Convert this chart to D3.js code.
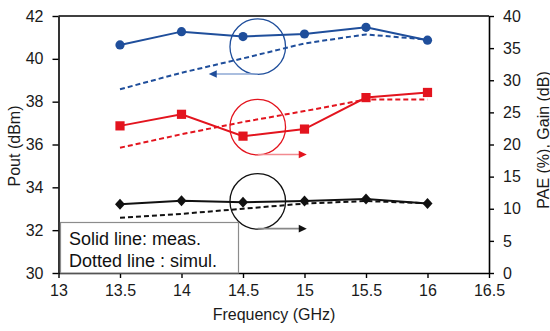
<!DOCTYPE html>
<html><head><meta charset="utf-8">
<script src="https://cdn.jsdelivr.net/npm/d3@7"></script>
<style>body{margin:0;background:#fff}svg{display:block}text{font-family:"Liberation Sans",Arial,sans-serif}</style>
</head><body><svg id="c" width="550" height="331"></svg>
<script>
const freq = [13.5, 14, 14.5, 15, 15.5, 16];
const poutMeas = [40.65, 41.27, 41.04, 41.16, 41.47, 40.87];
const poutSim  = [38.58, 39.35, 40.02, 40.72, 41.14, 40.9];
const paeMeas  = [22.9, 24.7, 21.3, 22.4, 27.3, 28.1];
const paeSim   = [19.5, 21.6, 23.5, 25.2, 27.0, 27.0];
const gainMeas = [10.7, 11.25, 11.0, 11.2, 11.5, 10.8];
const gainSim  = [8.6, 9.2, 10.0, 10.8, 11.2, 10.85];
const xTicks = [13, 13.5, 14, 14.5, 15, 15.5, 16, 16.5];
const yLeftTicks = [30, 32, 34, 36, 38, 40, 42];
const yRightTicks = [0, 5, 10, 15, 20, 25, 30, 35, 40];
const legendLines = ["Solid line: meas.", "Dotted line : simul."];
// annotation circles: [freq, value, axis, arrow direction]
const notes = [
  {f: 14.62, v: 40.57, axis: "L", dir: -1, color: "#1f4e9b", shaft: "#8ea8d4"},
  {f: 14.62, v: 22.7, axis: "R", dir: 1, color: "#e3141e", shaft: "#f28a90"},
  {f: 14.62, v: 11.15, axis: "R", dir: 1, color: "#111", shaft: "#888"}
];

const svg = d3.select("#c");
const x = d3.scaleLinear([13, 16.5], [58.5, 489]);
const yL = d3.scaleLinear([30, 42], [273, 16]);
const yR = d3.scaleLinear([0, 40], [273, 16]);

// top frame line
svg.append("line").attr("x1", x(13)).attr("x2", x(16.5)).attr("y1", yL(42)).attr("y2", yL(42))
  .attr("stroke", "#000").attr("stroke-width", 1.6);

function styleAxis(g){
  g.selectAll(".domain").attr("stroke", "#000").attr("stroke-width", 1.6);
  g.selectAll(".tick line").attr("stroke", "#000").attr("stroke-width", 1.4);
  g.selectAll(".tick text").attr("font-size", 16).attr("fill", "#1a1a1a")
    .style("font-family", '"Liberation Sans", Arial, sans-serif');
}
svg.append("g").attr("transform", `translate(0,${yL(30)})`)
  .call(d3.axisBottom(x).tickValues(xTicks).tickFormat(d => String(d)).tickSize(5).tickSizeOuter(0).tickPadding(7))
  .call(styleAxis);
svg.append("g").attr("transform", `translate(${x(13)},0)`)
  .call(d3.axisLeft(yL).tickValues(yLeftTicks).tickSize(6).tickSizeOuter(0).tickPadding(9))
  .call(styleAxis);
svg.append("g").attr("transform", `translate(${x(16.5)},0)`)
  .call(d3.axisRight(yR).tickValues(yRightTicks).tickSize(5).tickSizeOuter(0).tickPadding(9))
  .call(styleAxis);

// axis titles
svg.append("text").attr("x", 274).attr("y", 320).attr("text-anchor", "middle").attr("font-size", 16).attr("fill", "#1a1a1a").text("Frequency (GHz)");
svg.append("text").attr("transform", "translate(14,146) rotate(-90)").attr("text-anchor", "middle").attr("dominant-baseline", "central").attr("font-size", 16).attr("fill", "#1a1a1a").text("Pout (dBm)");
svg.append("text").attr("transform", "translate(543,140) rotate(-90)").attr("text-anchor", "middle").attr("dominant-baseline", "central").attr("font-size", 16).attr("fill", "#1a1a1a").text("PAE (%), Gain (dB)");

// series
function drawSeries(vals, y, color, dashed){
  const line = d3.line().x((d, i) => x(freq[i])).y(d => y(d));
  svg.append("path").datum(vals).attr("d", line).attr("fill", "none")
    .attr("stroke", color).attr("stroke-width", 2)
    .attr("stroke-dasharray", dashed ? "5,3" : null);
}
drawSeries(poutSim, yL, "#1f4e9b", true);
drawSeries(poutMeas, yL, "#1f4e9b", false);
drawSeries(paeSim, yR, "#e3141e", true);
drawSeries(paeMeas, yR, "#e3141e", false);
drawSeries(gainSim, yR, "#111", true);
drawSeries(gainMeas, yR, "#111", false);

svg.append("g").selectAll("circle").data(poutMeas).join("circle")
  .attr("cx", (d, i) => x(freq[i])).attr("cy", d => yL(d)).attr("r", 4.6).attr("fill", "#1f4e9b");
svg.append("g").selectAll("rect").data(paeMeas).join("rect")
  .attr("x", (d, i) => x(freq[i]) - 4.6).attr("y", d => yR(d) - 4.6).attr("width", 9.2).attr("height", 9.2).attr("fill", "#e3141e");
svg.append("g").selectAll("path").data(gainMeas).join("path")
  .attr("transform", (d, i) => `translate(${x(freq[i])},${yR(d)})`)
  .attr("d", "M0,-5.5L5,0L0,5.5L-5,0Z").attr("fill", "#111");

// annotations
const R = 27.8;
notes.forEach(n => {
  const cx = x(n.f), cy = (n.axis === "L" ? yL : yR)(n.v);
  svg.append("circle").attr("cx", cx).attr("cy", cy).attr("r", R).attr("fill", "none").attr("stroke", n.color).attr("stroke-width", 1.3);
  const ay = cy + R - 0.5;
  const tip = cx + n.dir * 49;
  svg.append("line").attr("x1", cx).attr("x2", tip - n.dir * 6).attr("y1", ay).attr("y2", ay).attr("stroke", n.shaft).attr("stroke-width", 1.6);
  svg.append("path").attr("d", `M${tip},${ay}L${tip - n.dir * 8},${ay - 3.8}L${tip - n.dir * 8},${ay + 3.8}Z`).attr("fill", n.color);
});

// legend box
svg.append("rect").attr("x", 60.5).attr("y", 222.5).attr("width", 178).attr("height", 50.5)
  .attr("fill", "#fff").attr("stroke", "#8c8c8c").attr("stroke-width", 1.2);
legendLines.forEach((t, i) => {
  svg.append("text").attr("x", 69).attr("y", 245 + i * 22).attr("font-size", 18).attr("fill", "#111").text(t);
});
</script></body></html>
